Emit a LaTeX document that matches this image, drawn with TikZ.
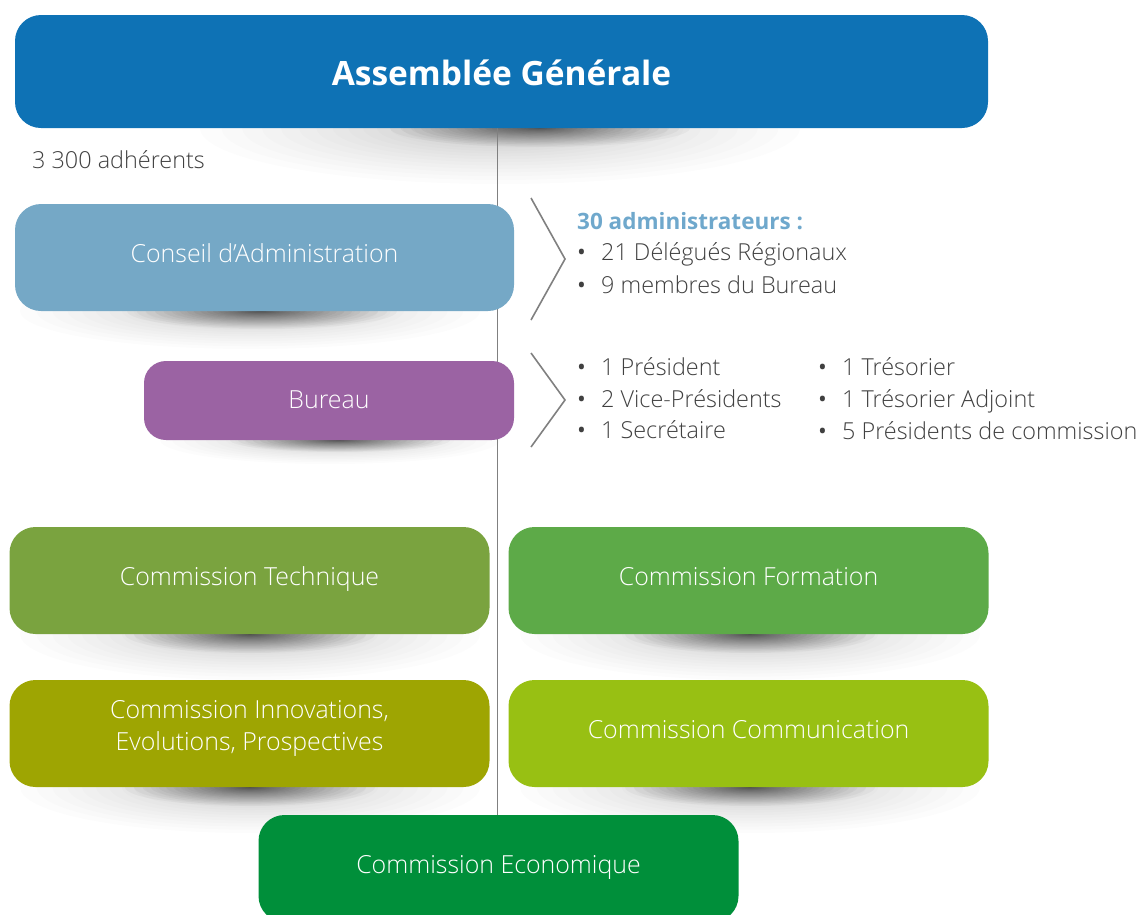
\documentclass[tikz,border=0pt]{standalone}
\usepackage{fontspec}
\setmainfont{Open Sans}
\newfontfamily\lightfont{Open Sans Light}
\definecolor{agblue}{HTML}{0E72B5}
\definecolor{cablue}{HTML}{75A8C6}
\definecolor{bupurple}{HTML}{9B63A3}
\definecolor{ctgreen}{HTML}{7AA33F}
\definecolor{cfgreen}{HTML}{5DAA48}
\definecolor{ciolive}{HTML}{9EA502}
\definecolor{cclime}{HTML}{98C013}
\definecolor{cegreen}{HTML}{008F3A}
\definecolor{txtgray}{HTML}{404040}
\definecolor{headblue}{HTML}{6FA8CC}
\definecolor{linegray}{HTML}{808080}
\pgfdeclarelayer{background}
\pgfsetlayers{background,main}
\tikzset{
 orgbox/.style={rounded corners=26pt, text=white, align=center, inner sep=0pt,
   text height=16pt, text depth=7pt,
   font=\lightfont\fontsize{24.9}{32}\selectfont},
 listtext/.style={text=txtgray, anchor=base west, inner sep=0pt,
   font=\lightfont\fontsize{23.4}{27}\selectfont},
 chev/.style={draw=linegray, line width=1.6pt},
 shadowstep/.style={fill=black, draw=none}
}
\newcommand\blt{\makebox[24pt][l]{\normalfont•}}
% soft shadow: cx, cy, rx, ry, opacity per step
\newcommand\softshadow[5]{%
  \foreach \k in {1,...,30}{%
    \pgfmathsetmacro\ff{(\k/30)^2.2}%
    \fill[shadowstep, opacity=#5] (#1,#2) ellipse [x radius={#3*\ff}, y radius={#4*\ff}];%
  }}
\begin{document}
\begin{tikzpicture}[x=1pt,y=-1pt]
\useasboundingbox (0,0) rectangle (1137,914);
\clip (0,0) rectangle (1137,914);
% boxes
\node[orgbox, fill=agblue, minimum width=973, minimum height=113,
  text height=27pt, text depth=0pt,
  font=\bfseries\fontsize{33.5}{38}\selectfont] (ag) at (501.5,71.5) {Assemblée Générale};
\node[orgbox, fill=cablue, minimum width=499, minimum height=107] (ca) at (264.5,257.5) {Conseil d’Administration};
\node[orgbox, fill=bupurple, rounded corners=22pt, minimum width=370, minimum height=79,
  text height=17pt, text depth=2pt] (bu) at (329,400.5) {Bureau};
\node[orgbox, fill=ctgreen, minimum width=480, minimum height=107] (ct) at (249.5,580.5) {Commission Technique};
\node[orgbox, fill=cfgreen, minimum width=480, minimum height=107] (cf) at (748.5,580.5) {Commission Formation};
\node[orgbox, fill=ciolive, minimum width=480, minimum height=107,
  text height=40pt, text depth=7pt] (ci) at (249.5,733.5) {Commission Innovations,\\Evolutions, Prospectives};
\node[orgbox, fill=cclime, minimum width=480, minimum height=107] (cc) at (748.5,733.5) {Commission Communication};
\node[orgbox, fill=cegreen, minimum width=480, minimum height=107] (ce) at (498.5,868.5) {Commission Economique};
% shadows and vertical line, behind the boxes
\begin{pgfonlayer}{background}
\softshadow{500}{128}{300}{56}{0.01}
\softshadow{540}{128}{150}{19}{0.035}
\softshadow{250}{311}{230}{38}{0.01}
\softshadow{262}{311}{135}{18}{0.035}
\softshadow{330}{440}{170}{24}{0.01}
\softshadow{340}{440}{110}{12}{0.035}
\softshadow{250}{634}{230}{46}{0.01}
\softshadow{250}{634}{125}{19}{0.035}
\softshadow{750}{634}{230}{46}{0.01}
\softshadow{750}{634}{125}{19}{0.035}
\softshadow{250}{787}{230}{46}{0.01}
\softshadow{250}{787}{125}{19}{0.035}
\softshadow{750}{787}{230}{46}{0.01}
\softshadow{750}{787}{125}{19}{0.035}
\draw[linegray, line width=1.8pt] (ag.south -| 497.5,0) -- (ce.north -| 497.5,0);
\end{pgfonlayer}
% chevrons
\coordinate (c1a) at (531,198); \coordinate (c1b) at (565,259); \coordinate (c1c) at (531,320);
\coordinate (c2a) at (531,353); \coordinate (c2b) at (565,400); \coordinate (c2c) at (531,447);
\draw[chev] (c1a) -- (c1b) -- (c1c);
\draw[chev] (c2a) -- (c2b) -- (c2c);
% texts
\node[listtext] (adh) at (32,168) {3 300 adhérents};
\node[listtext, text=headblue, font=\bfseries\fontsize{22.5}{27}\selectfont] (h30) at (577,229) {30 administrateurs :};
\node[listtext] (l1) at (577,260) {\blt21 Délégués Régionaux};
\node[listtext] (l2) at (577,293) {\blt9 membres du Bureau};
\node[listtext] (b1) at (577,375) {\blt1 Président};
\node[listtext] (b2) at (577,407) {\blt2 Vice-Présidents};
\node[listtext] (b3) at (577,438) {\blt1 Secrétaire};
\node[listtext] (b4) at (818,375) {\blt1 Trésorier};
\node[listtext] (b5) at (818,407) {\blt1 Trésorier Adjoint};
\node[listtext] (b6) at (818,439) {\blt5 Présidents de commission};
\end{tikzpicture}
\end{document}
